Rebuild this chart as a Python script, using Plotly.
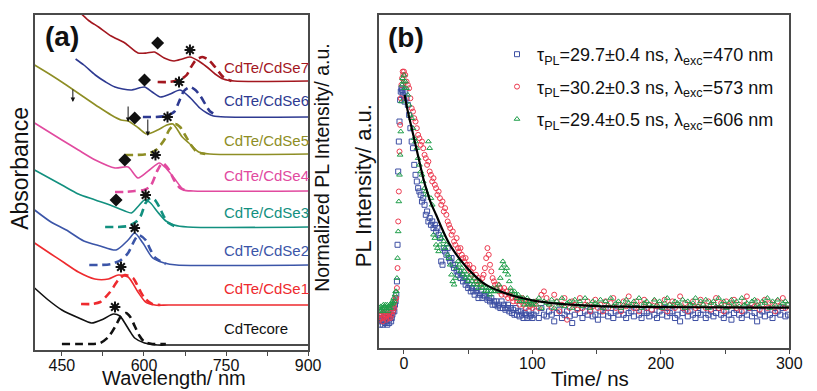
import numpy as np
import plotly.graph_objects as go

# ---------------- Panel (a): absorbance (solid) and normalized PL (dashed), offset a.u. ----------------
abs_core = [(400,62),(425,50),(450,40),(481,32),(504,27),(526,31),(544,36),(556,34),(565,27),(574,19),(583,12),(601,7),(625,5),(650,5),(900,5)]
pl_core = [(450,6),(475,6),(500,6),(520,7),(535,13),(548,24),(558,34),(567,37),(575,33),(583,24),(592,14),(601,8),(615,6),(640,6)]

abs_1 = [(400,107),(430,96),(455,87),(480,78),(510,71),(535,71),(553,75),(571,73),(589,58),(603,48),(620,45),(645,45),(900,45)]
pl_1 = [(485,46),(505,46),(520,48),(538,58),(553,70),(565,75),(580,72),(592,60),(601,52),(615,46),(630,45)]

abs_2 = [(400,140),(430,128),(458,120),(490,109),(520,104),(549,100),(571,110),(583,117),(598,107),(616,92),(637,87),(660,85),(900,85)]
pl_2 = [(500,85),(520,85),(540,86),(558,90),(571,97),(583,110),(590,115),(603,110),(612,100),(621,92),(640,86)]

abs_3 = [(400,180),(450,165),(480,156),(511,150),(547,143),(565,139),(577,137),(590,144),(601,150),(612,147),(625,138),(640,129),(655,125),(680,123),(900,123)]
pl_3 = [(529,123),(550,123),(571,124),(585,128),(594,134),(603,147),(612,152),(620,150),(628,143),(637,133),(645,127),(660,123)]

abs_4 = [(400,227),(450,210),(480,200),(511,190),(547,182),(571,183),(589,172),(610,180),(628,187),(640,182),(655,172),(673,160),(690,159),(900,159)]
pl_4 = [(547,158),(565,158),(583,159),(600,160),(612,164),(625,180),(634,187),(646,180),(655,170),(666,162),(680,159)]

abs_5 = [(400,285),(430,275),(458,265),(490,253),(517,243),(540,235),(558,230),(571,229),(590,222),(605,216),(625,220),(642,225),(653,226),(670,213),(682,207),(700,198),(720,196),(900,196)]
pl_5 = [(565,195),(585,195),(605,196),(622,200),(637,210),(646,220),(657,226),(666,223),(675,215),(686,205),(697,198),(712,196)]

abs_6 = [(475,291),(490,285),(511,275),(530,268),(547,263),(576,260),(601,263),(615,258),(630,253),(648,256),(666,260),(685,252),(702,242),(715,237),(727,234),(750,233),(900,233)]
pl_6 = [(598,233),(620,233),(640,234),(655,238),(663,247),(673,259),(684,263),(694,260),(703,254),(712,246),(720,239),(735,234)]

abs_7 = [(482,338),(500,329),(517,323),(540,314),(565,307),(589,297),(605,297),(619,298),(637,292),(655,289),(670,291),(684,293),(700,289),(715,283),(730,276),(745,271),(765,269),(900,269)]
pl_7 = [(625,268),(645,268),(665,270),(678,275),(686,283),(695,290),(707,293),(718,290),(730,283),(745,273),(760,269)]

sample_names = ["CdTecore", "CdTe/CdSe1", "CdTe/CdSe2", "CdTe/CdSe3", "CdTe/CdSe4", "CdTe/CdSe5", "CdTe/CdSe6", "CdTe/CdSe7"]
sample_colors = ["#111111", "#ee2a2e", "#3b55a8", "#12907f", "#e14a9f", "#8e8e25", "#2e3a91", "#a3171f"]
label_y = [22, 62, 100, 138, 175, 210, 250, 282]
label_x = 742

diamond_x = [549, 565, 583, 601, 625]
diamond_y = [150, 190, 232, 270, 307]
star_x = [547, 558, 583, 603, 621, 643, 664, 684]
star_y = [43, 83, 122, 155, 195, 233, 268, 300]
arrow_x = [470, 571, 607]
arrow_tip = [248, 228, 214]
arrow_tail = [262, 245, 232]

# ---------------- Panel (b): PL decay ----------------
# segments: A from -19 step 0.5, B from -6 step 0.5, C from 1 step 1, D from 101 step 2
seg_start = [-19, -6, 1, 101]
seg_step = [0.5, 0.5, 1, 2]

blue_A = [0.09,0.07,0.10,0.08,0.085,0.07,0.09,0.08,0.10,0.075,0.09,0.08,0.07,0.095,0.085,0.075,0.09,0.10,0.08,0.09,0.10,0.11,0.12,0.11,0.13,0.14]
blue_B = [0.16,0.20,0.31,0.53,0.62,0.68,0.745,0.77,0.78,0.775,0.76,0.77,0.75,0.74]
blue_C = [0.77,0.75,0.73,0.70,0.66,0.62,0.60,0.55,0.52,0.50,
          0.48,0.47,0.46,0.44,0.45,0.43,0.40,0.41,0.38,0.39,
          0.37,0.38,0.36,0.37,0.35,0.36,0.34,0.33,0.26,0.25,
          0.30,0.29,0.28,0.30,0.27,0.26,0.27,0.25,0.24,0.25,
          0.23,0.22,0.23,0.21,0.22,0.20,0.21,0.19,0.20,0.18,
          0.19,0.17,0.18,0.17,0.16,0.18,0.17,0.15,0.16,0.17,
          0.15,0.16,0.155,0.17,0.145,0.15,0.14,0.15,0.13,0.14,
          0.13,0.14,0.125,0.13,0.12,0.14,0.12,0.13,0.115,0.12,
          0.13,0.11,0.12,0.105,0.115,0.10,0.12,0.10,0.11,0.095,
          0.11,0.10,0.09,0.105,0.10,0.09,0.11,0.095,0.10,0.09]
blue_D = [0.10,0.11,0.09,0.12,0.10,0.095,0.11,0.10,0.08,0.105,
          0.115,0.09,0.10,0.11,0.095,0.075,0.10,0.12,0.105,0.09,
          0.11,0.10,0.115,0.095,0.10,0.085,0.11,0.10,0.12,0.095,
          0.105,0.09,0.11,0.10,0.115,0.10,0.09,0.105,0.11,0.095,
          0.12,0.10,0.09,0.11,0.105,0.095,0.115,0.10,0.09,0.11,
          0.10,0.12,0.095,0.105,0.11,0.09,0.10,0.08,0.105,0.115,
          0.095,0.11,0.10,0.09,0.105,0.10,0.115,0.09,0.10,0.11,
          0.095,0.105,0.12,0.10,0.09,0.11,0.10,0.085,0.105,0.115,
          0.10,0.09,0.11,0.10,0.12,0.095,0.105,0.08,0.10,0.11,
          0.095,0.115,0.10,0.09,0.105,0.11,0.10,0.12,0.095,0.10]

red_A = [0.10,0.085,0.11,0.09,0.10,0.08,0.105,0.09,0.11,0.10,0.095,0.085,0.10,0.11,0.09,0.10,0.105,0.09,0.11,0.10,0.12,0.11,0.13,0.12,0.14,0.15]
red_B = [0.15,0.18,0.24,0.38,0.47,0.59,0.67,0.75,0.79,0.81,0.83,0.82,0.83,0.80]
red_C = [0.82,0.80,0.79,0.78,0.75,0.72,0.71,0.69,0.68,0.66,
         0.64,0.63,0.61,0.62,0.60,0.58,0.57,0.55,0.56,0.53,
         0.52,0.50,0.51,0.49,0.48,0.46,0.47,0.45,0.43,0.44,
         0.41,0.42,0.40,0.38,0.37,0.36,0.34,0.35,0.32,0.31,
         0.33,0.30,0.29,0.30,0.28,0.27,0.26,0.27,0.25,0.24,
         0.25,0.23,0.22,0.24,0.21,0.22,0.20,0.21,0.20,0.19,
         0.21,0.22,0.24,0.27,0.30,0.28,0.25,0.23,0.21,0.20,
         0.19,0.18,0.19,0.17,0.18,0.16,0.17,0.18,0.16,0.17,
         0.15,0.16,0.17,0.15,0.14,0.16,0.15,0.14,0.15,0.13,
         0.14,0.15,0.13,0.14,0.12,0.135,0.14,0.125,0.13,0.12]
red_D = [0.13,0.14,0.12,0.16,0.17,0.15,0.13,0.12,0.16,0.14,
         0.11,0.13,0.15,0.085,0.12,0.14,0.13,0.115,0.15,0.12,
         0.13,0.14,0.11,0.125,0.145,0.12,0.13,0.11,0.14,0.12,
         0.135,0.15,0.12,0.13,0.11,0.14,0.125,0.155,0.13,0.12,
         0.14,0.11,0.13,0.145,0.12,0.13,0.115,0.14,0.125,0.13,
         0.12,0.145,0.11,0.13,0.14,0.12,0.13,0.155,0.12,0.135,
         0.11,0.13,0.14,0.12,0.125,0.145,0.13,0.12,0.14,0.115,
         0.13,0.15,0.12,0.135,0.11,0.14,0.125,0.13,0.145,0.12,
         0.13,0.11,0.14,0.155,0.12,0.13,0.125,0.14,0.115,0.13,
         0.145,0.12,0.135,0.13,0.11,0.14,0.125,0.15,0.12,0.13]

green_A = [0.12,0.11,0.125,0.115,0.12,0.11,0.13,0.12,0.125,0.13,0.115,0.12,0.13,0.11,0.125,0.12,0.13,0.12,0.135,0.13,0.14,0.135,0.15,0.14,0.16,0.17]
green_B = [0.17,0.21,0.27,0.35,0.44,0.52,0.58,0.65,0.74,0.79,0.81,0.80,0.82,0.78]
green_C = [0.80,0.78,0.76,0.73,0.70,0.69,0.66,0.63,0.62,0.60,
           0.57,0.55,0.53,0.52,0.50,0.48,0.47,0.46,0.62,0.60,
           0.45,0.43,0.34,0.33,0.31,0.30,0.29,0.31,0.33,0.34,
           0.32,0.30,0.31,0.28,0.27,0.25,0.22,0.20,0.19,0.21,
           0.24,0.26,0.25,0.23,0.24,0.22,0.23,0.21,0.22,0.20,
           0.21,0.22,0.20,0.19,0.21,0.20,0.19,0.18,0.20,0.19,
           0.18,0.19,0.17,0.18,0.17,0.18,0.16,0.17,0.18,0.17,
           0.17,0.18,0.17,0.19,0.21,0.24,0.26,0.25,0.23,0.24,
           0.22,0.20,0.18,0.17,0.16,0.17,0.16,0.15,0.16,0.14,
           0.15,0.14,0.15,0.13,0.14,0.15,0.13,0.14,0.135,0.13]
green_D = [0.14,0.13,0.15,0.12,0.14,0.135,0.13,0.145,0.12,0.14,
           0.13,0.15,0.125,0.135,0.14,0.12,0.145,0.13,0.14,0.125,
           0.15,0.13,0.12,0.14,0.135,0.13,0.145,0.12,0.14,0.13,
           0.15,0.125,0.135,0.14,0.12,0.13,0.145,0.135,0.125,0.14,
           0.13,0.15,0.12,0.135,0.14,0.13,0.125,0.145,0.13,0.14,
           0.12,0.135,0.15,0.13,0.125,0.14,0.135,0.13,0.145,0.12,
           0.14,0.13,0.135,0.15,0.125,0.14,0.13,0.145,0.12,0.135,
           0.14,0.125,0.15,0.13,0.14,0.12,0.135,0.145,0.13,0.14,
           0.125,0.15,0.13,0.135,0.12,0.14,0.145,0.13,0.125,0.14,
           0.135,0.15,0.12,0.14,0.13,0.145,0.125,0.135,0.14,0.13]

fit_t = [0.5, 3, 6, 9, 12, 15, 18, 21, 25, 30, 35, 40, 47, 53, 60, 66, 75, 85, 92, 100, 115, 130, 150, 175, 200, 250, 300]
fit_I = [0.76, 0.71, 0.66, 0.61, 0.56, 0.51, 0.47, 0.435, 0.40, 0.355, 0.315, 0.285, 0.25, 0.225, 0.20, 0.185, 0.17, 0.157, 0.15, 0.143, 0.135, 0.13, 0.126, 0.124, 0.123, 0.122, 0.121]

legend_names = [
    "τ<sub>PL</sub>=29.7±0.4 ns, λ<sub>exc</sub>=470 nm",
    "τ<sub>PL</sub>=30.2±0.3 ns, λ<sub>exc</sub>=573 nm",
    "τ<sub>PL</sub>=29.4±0.5 ns, λ<sub>exc</sub>=606 nm",
]
series_colors = ["#3d4fa3", "#ec3a4f", "#1f9e4a"]
series_symbols = ["square-open", "circle-open", "triangle-up-open"]

FONT = "Liberation Sans, Arial, sans-serif"
OFF = 8                      # default page body margin of the written html page
W, H = 817 - OFF, 391 - OFF


def px(xp):
    return (xp - OFF) / W


def py(yp):
    return (391 - yp) / H


def seg_series(parts):
    ts, vs = [], []
    for s0, st, vals in zip(seg_start, seg_step, parts):
        ts.extend(list(s0 + st * np.arange(len(vals))))
        vs.extend(vals)
    return ts, vs


fig = go.Figure()

abs_list = [abs_core, abs_1, abs_2, abs_3, abs_4, abs_5, abs_6, abs_7]
pl_list = [pl_core, pl_1, pl_2, pl_3, pl_4, pl_5, pl_6, pl_7]
for a, p, c in zip(abs_list, pl_list, sample_colors):
    fig.add_trace(go.Scatter(x=[q[0] for q in a], y=[q[1] for q in a], mode="lines",
                             line=dict(color=c, width=1.6, shape="spline", smoothing=0.7),
                             showlegend=False, xaxis="x", yaxis="y"))
    fig.add_trace(go.Scatter(x=[q[0] for q in p], y=[q[1] for q in p], mode="lines",
                             line=dict(color=c, width=2.6, dash="8px,5px", shape="spline", smoothing=0.7),
                             showlegend=False, xaxis="x", yaxis="y"))

fig.add_trace(go.Scatter(x=diamond_x, y=diamond_y, mode="markers",
                         marker=dict(symbol="diamond", size=10, color="#111"),
                         showlegend=False, xaxis="x", yaxis="y"))
fig.add_trace(go.Scatter(x=star_x, y=star_y, mode="markers",
                         marker=dict(symbol="asterisk-open", size=9, color="#111",
                                     line=dict(color="#111", width=2)),
                         showlegend=False, xaxis="x", yaxis="y"))

series_parts = [
    [blue_A, blue_B, blue_C, blue_D],
    [red_A, red_B, red_C, red_D],
    [green_A, green_B, green_C, green_D],
]
for i, (parts, name, col, sym) in enumerate(zip(series_parts, legend_names, series_colors, series_symbols)):
    t, v = seg_series(parts)
    fig.add_trace(go.Scatter(x=t, y=v, mode="markers", name=name, legendgroup=str(i),
                             marker=dict(symbol=sym, size=5, color=col, line=dict(color=col, width=1)),
                             xaxis="x2", yaxis="y2"))

fig.add_trace(go.Scatter(x=fit_t, y=fit_I, mode="lines", line=dict(color="black", width=2.2, shape="spline"),
                         showlegend=False, xaxis="x2", yaxis="y2"))

frame = dict(showline=True, mirror=True, linecolor="#4a4a4a", linewidth=1.5, showgrid=False, zeroline=False)

ann = []
for name, col, yv in zip(sample_names, sample_colors, label_y):
    ann.append(dict(x=label_x, y=yv, xref="x", yref="y", text=name, showarrow=False, xanchor="left",
                    yanchor="middle", font=dict(family=FONT, size=15, color=col)))
for x0, tip, tail in zip(arrow_x, arrow_tip, arrow_tail):
    ann.append(dict(x=x0, y=tip, ax=x0, ay=tail, xref="x", yref="y", axref="x", ayref="y", text="",
                    showarrow=True, arrowhead=2, arrowsize=0.9, arrowwidth=1, arrowcolor="#111"))


def label(xp, yp, text, size, angle=0):
    return dict(x=px(xp), y=py(yp), xref="paper", yref="paper", text=text, textangle=angle,
                showarrow=False, xanchor="center", yanchor="middle",
                font=dict(family=FONT, size=size, color="#111"))


ann += [
    label(20, 168, "Absorbance", 23, -90),
    label(327, 167, "Normalized PL Intensity/ a.u.", 19.5, -90),
    label(369, 186, "PL Intensity/ a.u.", 22, -90),
    label(177, 378, "Wavelength/ nm", 20),
    label(600, 378, "Time/ ns", 20.5),
    label(63, 36, "<b>(a)</b>", 28),
    label(413, 38, "<b>(b)</b>", 28),
]

tick_common = dict(ticks="outside", ticklen=4, tickwidth=1.2, tickcolor="#4a4a4a", tickfont=dict(size=16),
                   ticklabelstandoff=-4)

fig.update_layout(
    width=W, height=H, margin=dict(l=0, r=0, t=0, b=0),
    paper_bgcolor="white", plot_bgcolor="white",
    font=dict(family=FONT, color="#111"),
    xaxis=dict(domain=[px(35), px(313)], range=[400, 900], anchor="y", tick0=450, dtick=150,
               minor=dict(tick0=450, dtick=75, ticks="outside", ticklen=4, tickcolor="#4a4a4a"),
               **tick_common, **frame),
    yaxis=dict(domain=[py(350), py(15)], range=[0, 335], anchor="x", showticklabels=False, ticks="", **frame),
    xaxis2=dict(domain=[px(385), px(802)], range=[-19.5, 300], anchor="y2", tick0=0, dtick=100,
                minor=dict(tick0=0, dtick=50, ticks="outside", ticklen=4, tickcolor="#4a4a4a"),
                **tick_common, **frame),
    yaxis2=dict(domain=[py(348), py(15)], range=[0, 1], anchor="x2", showticklabels=False, ticks="", **frame),
    legend=dict(x=px(505), y=py(36), xanchor="left", yanchor="top", bgcolor="rgba(0,0,0,0)",
                font=dict(family=FONT, size=18, color="#111"), tracegroupgap=6, itemwidth=30),
    annotations=ann,
)

fig.write_html("out.html")
